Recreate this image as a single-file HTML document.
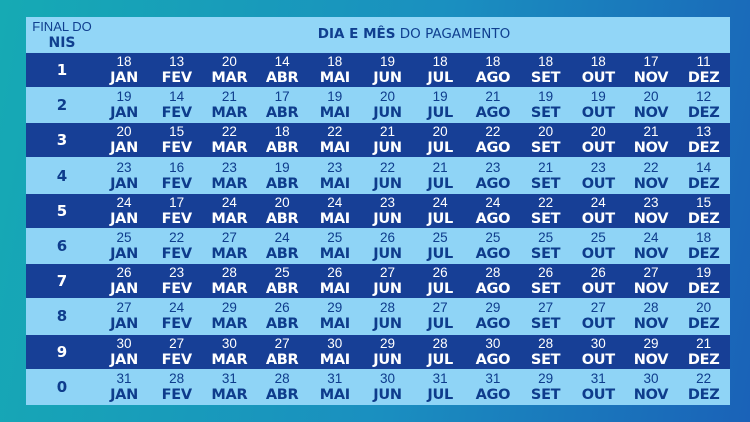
<!DOCTYPE html><html><head><meta charset="utf-8"><style>
body{margin:0;width:750px;height:422px;overflow:hidden;background:linear-gradient(100deg,#16aab4 0%,#1a8fc0 55%,#1a62b8 100%);font-family:"DejaVu Sans","Liberation Sans",sans-serif;}
#t{position:absolute;left:26px;top:17px;width:704px;height:388px;background:#8fd4f6;}
.h{position:absolute;top:0;height:35px;width:100%;background:#92d6f7;color:#103f8f}
.r{position:absolute;left:0;width:704px;height:34px;}
.d{background:#173f96;color:#fff}.l{background:#8fd4f6;color:#0e3c8c}
.n{position:absolute;left:0;width:72px;text-align:center;top:8px;font-weight:bold;font-size:15px}
.c{position:absolute;width:52px;text-align:center;top:1px;line-height:16px}
.c span{display:block;font-size:13.5px;font-family:"Liberation Sans",sans-serif}.c b{display:block;font-size:14.5px;letter-spacing:-0.3px}
</style></head><body><div id="t">
<div class="h"><div style="position:absolute;left:0;width:72px;text-align:center;top:2px;font-size:13px;line-height:16px;font-family:'Liberation Sans',sans-serif">FINAL DO<br><b style="font-size:14px;font-family:'DejaVu Sans',sans-serif">NIS</b></div>
<div style="position:absolute;left:72px;right:0;text-align:center;top:9px;font-size:13.5px"><b>DIA E MÊS</b> DO PAGAMENTO</div></div>
<div id="rows"></div></div>
<script>
var m=["JAN","FEV","MAR","ABR","MAI","JUN","JUL","AGO","SET","OUT","NOV","DEZ"];
var d=[[18,13,20,14,18,19,18,18,18,18,17,11],[19,14,21,17,19,20,19,21,19,19,20,12],[20,15,22,18,22,21,20,22,20,20,21,13],[23,16,23,19,23,22,21,23,21,23,22,14],[24,17,24,20,24,23,24,24,22,24,23,15],[25,22,27,24,25,26,25,25,25,25,24,18],[26,23,28,25,26,27,26,28,26,26,27,19],[27,24,29,26,29,28,27,29,27,27,28,20],[30,27,30,27,30,29,28,30,28,30,29,21],[31,28,31,28,31,30,31,31,29,31,30,22]];
var nis=[1,2,3,4,5,6,7,8,9,0],h="";
for(var i=0;i<10;i++){h+='<div class="r '+(i%2?'l':'d')+'" style="top:'+(36+i*35.2)+'px"><div class="n">'+nis[i]+'</div>';
for(var j=0;j<12;j++)h+='<div class="c" style="left:'+(72+j*52.7)+'px"><span>'+d[i][j]+'</span><b>'+m[j]+'</b></div>';h+='</div>';}
document.getElementById("rows").outerHTML=h;
</script></body></html>
